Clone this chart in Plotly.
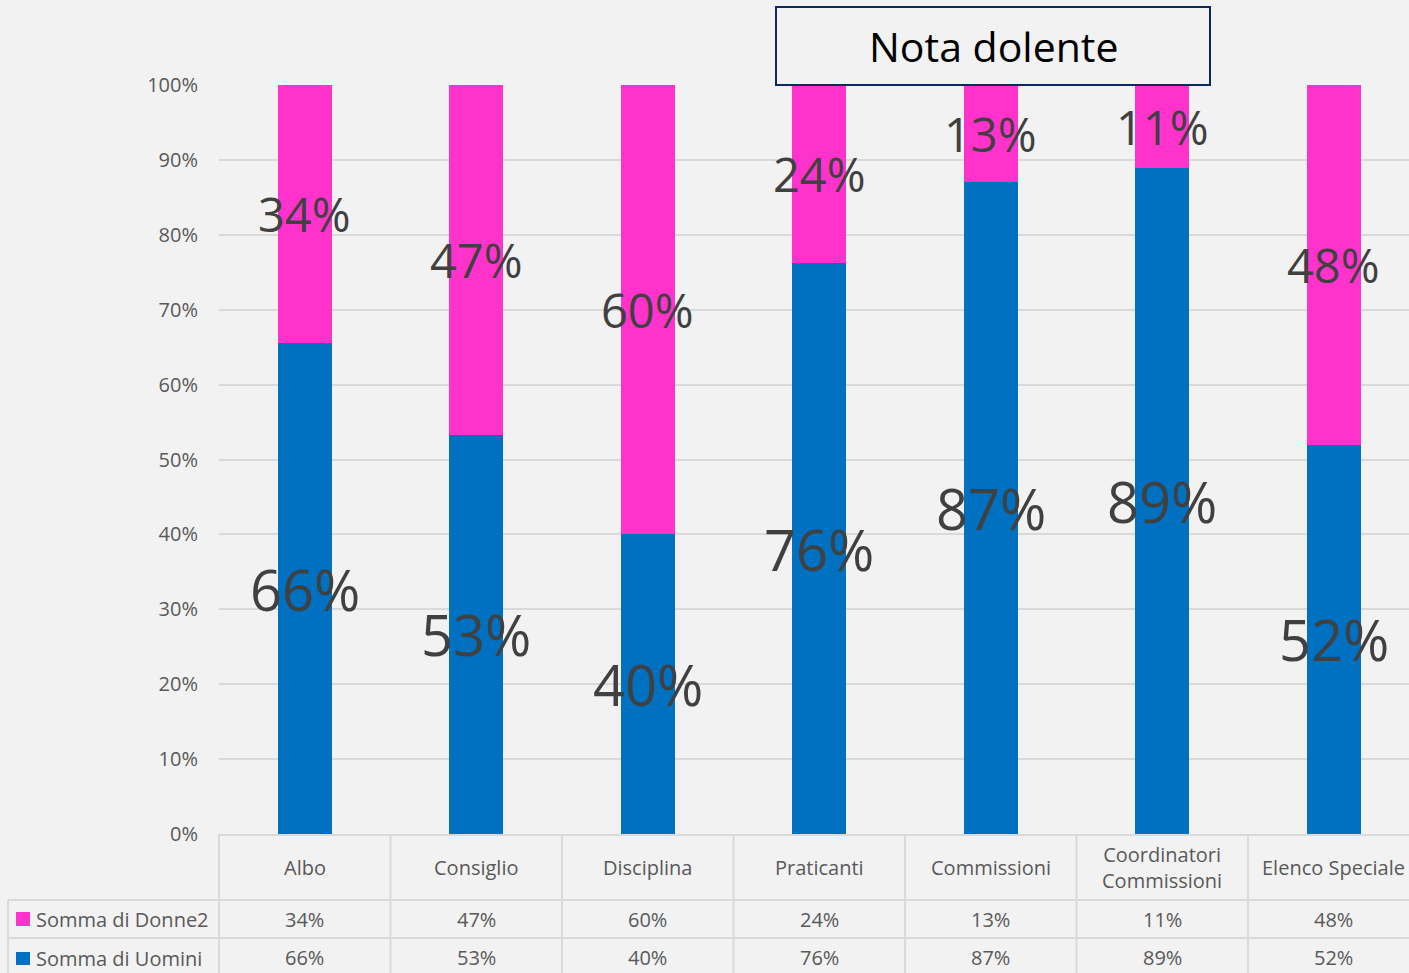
import plotly.graph_objects as go

categories = ["Albo", "Consiglio", "Disciplina", "Praticanti", "Commissioni",
              "Coordinatori<br>Commissioni", "Elenco Speciale"]
uomini = [0.655, 0.533, 0.40, 0.762, 0.87, 0.889, 0.52]
donne = [0.345, 0.467, 0.60, 0.238, 0.13, 0.111, 0.48]
series_names = ["Somma di Donne2", "Somma di Uomini"]
title_text = "Nota dolente"

BLUE = "#0070C0"
PINK = "#FF33CC"
BG = "#F2F2F2"
GRID = "#D9D9D9"
FONT = "Open Sans"

xs = list(range(len(categories)))

fig = go.Figure()
fig.add_trace(go.Bar(x=xs, y=uomini, marker=dict(color=BLUE, line=dict(width=0)),
                     width=0.315, name=series_names[1], showlegend=False))
fig.add_trace(go.Bar(x=xs, y=donne, marker=dict(color=PINK, line=dict(width=0)),
                     width=0.315, name=series_names[0], showlegend=False))

annotations = []
# big data labels in the middle of each segment
for i, (u, d) in enumerate(zip(uomini, donne)):
    annotations.append(dict(x=i, y=u / 2, xref="x", yref="y", text=f"{u:.0%}",
                            showarrow=False, font=dict(family=FONT, size=56, color="#404040")))
    annotations.append(dict(x=i, y=u + d / 2, xref="x", yref="y", text=f"{d:.0%}",
                            showarrow=False, font=dict(family=FONT, size=47, color="#404040")))

# data table
H = 749.0  # plot height px
def py(p):
    return (834 - p) / H

W = 1190.0
def px(p):
    return (p - 219) / W

tfont = dict(family=FONT, size=20, color="#595959")
for i, c in enumerate(categories):
    annotations.append(dict(x=i, y=py(867), xref="x", yref="paper", text=c, showarrow=False,
                            font=tfont, yanchor="middle"))
    annotations.append(dict(x=i, y=py(919), xref="x", yref="paper", text=f"{donne[i]:.0%}",
                            showarrow=False, font=tfont, yanchor="middle"))
    annotations.append(dict(x=i, y=py(957), xref="x", yref="paper", text=f"{uomini[i]:.0%}",
                            showarrow=False, font=tfont, yanchor="middle"))

annotations.append(dict(x=px(34), y=py(919), xref="paper", yref="paper", text=series_names[0],
                        showarrow=False, xanchor="left", yanchor="middle", font=tfont))
annotations.append(dict(x=px(34), y=py(958), xref="paper", yref="paper", text=series_names[1],
                        showarrow=False, xanchor="left", yanchor="middle", font=tfont))

# title box
annotations.append(dict(x=(px(776) + px(1210)) / 2, y=(py(7) + py(85)) / 2, xref="paper", yref="paper",
                        text=title_text, showarrow=False, xanchor="center", yanchor="middle",
                        font=dict(family=FONT, size=41, color="#000000")))

shapes = []
line = dict(color=GRID, width=2)
# horizontal table lines
for yy in [900, 938]:
    shapes.append(dict(type="line", xref="paper", yref="paper", x0=px(8), x1=1.0,
                       y0=py(yy), y1=py(yy), line=line))
# vertical table lines
shapes.append(dict(type="line", xref="paper", yref="paper", x0=px(219), x1=px(219),
                   y0=0, y1=py(973), line=line))
shapes.append(dict(type="line", xref="paper", yref="paper", x0=px(8), x1=px(8),
                   y0=py(900), y1=py(973), line=line))
for i in range(len(categories) - 1):
    shapes.append(dict(type="line", xref="x", yref="paper", x0=i + 0.5, x1=i + 0.5,
                       y0=0, y1=py(973), line=line))
# legend keys
shapes.append(dict(type="rect", xref="paper", yref="paper", x0=px(16), x1=px(30),
                   y0=py(926), y1=py(912), fillcolor=PINK, line=dict(width=0)))
shapes.append(dict(type="rect", xref="paper", yref="paper", x0=px(16), x1=px(30),
                   y0=py(965), y1=py(952), fillcolor=BLUE, line=dict(width=0)))
# title box
shapes.append(dict(type="rect", xref="paper", yref="paper", x0=px(776), x1=px(1210),
                   y0=py(85), y1=py(7), fillcolor=BG, line=dict(color="#0B2A5B", width=2),
                   layer="above"))

fig.update_layout(
    barmode="stack",
    width=1409, height=973,
    margin=dict(l=219, r=0, t=85, b=139, pad=0),
    paper_bgcolor=BG, plot_bgcolor=BG,
    font=dict(family=FONT, color="#595959"),
    annotations=annotations,
    shapes=shapes,
    xaxis=dict(range=[-0.5, -0.5 + 1190 / 171.5], showticklabels=False, showgrid=False,
               zeroline=False, showline=True, linecolor=GRID, linewidth=2, fixedrange=True),
    yaxis=dict(range=[0, 1], dtick=0.1, tickformat=".0%", showgrid=True, gridcolor=GRID,
               gridwidth=2, zeroline=False, showline=False, ticklabelstandoff=20,
               tickfont=dict(family=FONT, size=20, color="#595959"), fixedrange=True),
    showlegend=False,
)

fig.write_html("out.html", config={"displayModeBar": False},
               post_script="document.body.style.margin='0';document.body.style.overflow='hidden';")
